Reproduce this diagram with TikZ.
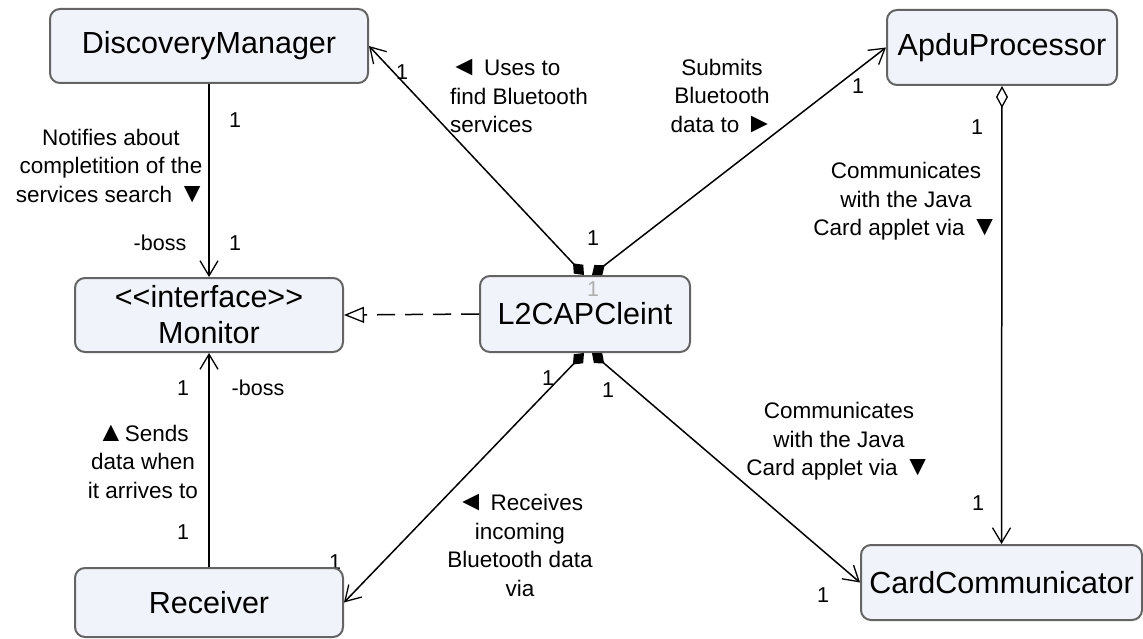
\documentclass[tikz,border=0pt]{standalone}
\usepackage{fontspec}
\setmainfont{Liberation Sans}
\usetikzlibrary{arrows.meta,calc}
\definecolor{boxfill}{RGB}{240,243,249}
\definecolor{boxline}{RGB}{100,100,100}
\definecolor{multgray}{RGB}{175,175,175}
\newcommand{\bigsym}[1]{{\fontsize{28}{28.5}\selectfont #1}}
\begin{document}
\begin{tikzpicture}[x=1pt,y=-1pt,
  cls/.style={draw=boxline, line width=2pt, fill=boxfill, rounded corners=10pt, inner sep=0pt,
    font=\fontsize{30.5}{36}\selectfont, align=center},
  lbl/.style={font=\fontsize{22.5}{28.5}\selectfont, align=center, inner sep=0pt},
  mult/.style={font=\fontsize{21.5}{24}\selectfont, inner sep=0pt},
  open head/.style={-{Straight Barb[length=15pt,width=18pt,line width=1.3pt]}},
  assoc/.style={line width=1.5pt, open head},
  comp/.style={line width=1.5pt, {Diamond[length=16pt,width=13pt]}-{Straight Barb[length=15pt,width=18pt,line width=1.3pt]}},
  aggr/.style={line width=1.5pt, {Diamond[open,length=22pt,width=12pt,line width=1.3pt]}-{Straight Barb[length=15pt,width=18pt,line width=1.3pt]}},
  realize/.style={line width=1.5pt, dash pattern=on 18pt off 10pt, -{Triangle[open,length=20pt,width=16pt,line width=1.3pt,fill=white]}},
]
\useasboundingbox (0,0) rectangle (1143,639);

% multiplicity partly hidden under Receiver
\node[mult] (mRecv) at (335,562) {1};

% classes
\node[cls, minimum width=318pt, minimum height=74pt] (dm) at (209,46) {DiscoveryManager};
\node[cls, minimum width=230pt, minimum height=75pt] (apdu) at (1002,47.5) {ApduProcessor};
\node[cls, minimum width=268pt, minimum height=74pt] (mon) at (209,315) {<\kern0pt<interface>\kern0pt>\\Monitor};
\node[cls, minimum width=210pt, minimum height=76pt] (l2) at (585,314) {L2CAPCleint};
\node[cls, minimum width=268pt, minimum height=69pt] (recv) at (209,602.5) {Receiver};
\node[cls, minimum width=281pt, minimum height=75pt] (cc) at (1001.5,582.5) {CardCommunicator};

% connectors
\draw[assoc] (dm.south) -- (mon.north);
\draw[assoc] (recv.north) -- (mon.south);
\draw[realize] (l2.west) -- (mon.east);
\draw[comp] ($(l2.north)+(-1,0)$) -- (dm.east);
\draw[comp] ($(l2.north)+(7,0)$) -- (apdu.west);
\draw[comp] ($(l2.south)+(-1,0)$) -- (recv.east);
\draw[comp] ($(l2.south)+(7,0)$) -- (cc.west);
\draw[aggr] (apdu.south) -- (cc.north);

% association labels
\node[lbl, align=left, anchor=west] (lUses) at (450,96) {\bigsym{◄} Uses to\\find Bluetooth\\services};
\node[lbl] (lSubmit) at (722,96) {Submits\\Bluetooth\\data to \bigsym{►}};
\node[lbl] (lNotify) at (111,166) {Notifies about\\completition of the\\services search \bigsym{▼}};
\node[lbl] (lSends) at (143,461.5) {\bigsym{▲}Sends\\data when\\it arrives to};
\node[lbl] (lRecv) at (520,545.5) {\bigsym{◄} Receives\\incoming\\Bluetooth data\\via};
\node[lbl] (lComm1) at (906,201.5) {Communicates\\with the Java\\Card applet via \bigsym{▼}};
\node[lbl] (lComm2) at (839,441.5) {Communicates\\with the Java\\Card applet via \bigsym{▼}};

% multiplicities and roles
\node[mult] (m1) at (402,72) {1};
\node[mult] (m2) at (858,86) {1};
\node[mult] (m3) at (593,238) {1};
\node[mult, text=multgray] (m4) at (593,289) {1};
\node[mult] (m5) at (548,378) {1};
\node[mult] (m6) at (608,390) {1};
\node[mult] (m7) at (823,595) {1};
\node[mult] (m8) at (977,127) {1};
\node[mult] (m9) at (978,503) {1};
\node[mult] (m10) at (235,120) {1};
\node[mult] (m11) at (235,243) {1};
\node[mult] (m12) at (183,388) {1};
\node[mult] (m13) at (183,532) {1};
\node[mult] (r1) at (160,243) {-boss};
\node[mult] (r2) at (258,388) {-boss};
\end{tikzpicture}
\end{document}
